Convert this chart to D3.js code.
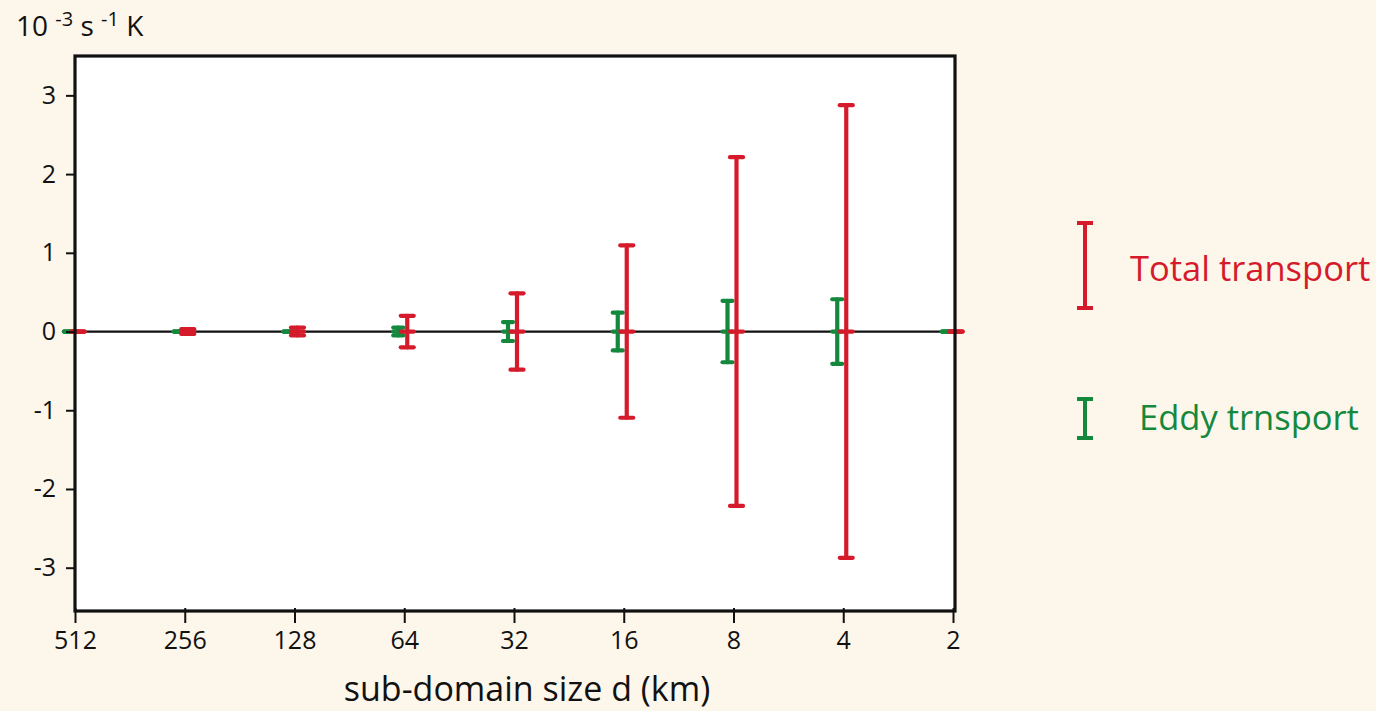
<!DOCTYPE html>
<html><head><meta charset="utf-8">
<script src="https://cdn.jsdelivr.net/npm/d3@7"></script>
<style>
html,body{margin:0;padding:0;background:#fdf6ea;}
svg{display:block;font-family:"Open Sans",sans-serif;}
</style></head>
<body>
<svg id="chart" width="1376" height="711"></svg>
<script>
// ---- data ----
const sizes = ["512","256","128","64","32","16","8","4","2"];
const totalHalf = [0.0, 0.03, 0.05, 0.2, 0.485, 1.095, 2.215, 2.875, 0.0];
const eddyHalf  = [0.0, 0.0, 0.0, 0.05, 0.12, 0.24, 0.39, 0.41, 0.0];
const yTicks = [-3,-2,-1,0,1,2,3];
const seriesNames = ["Total transport","Eddy trnsport"];

const RED = "#d51b2b", GREEN = "#14883c";
const svg = d3.select("#chart");
const L = 75, R = 953, T = 56, B = 611;

const x = d3.scalePoint().domain(sizes).range([L, R]);
const y = d3.scaleLinear().domain([-3.55, 3.5]).range([B, T]);

// plot area
svg.append("rect").attr("x", L).attr("y", T).attr("width", R - L + 2).attr("height", B - T)
  .attr("fill", "#ffffff");

// zero line
svg.append("line").attr("x1", L - 10).attr("x2", R + 2).attr("y1", y(0)).attr("y2", y(0))
  .attr("stroke", "#111").attr("stroke-width", 2.2);

// error bars
function drawBars(vals, color, off, capW, cls) {
  const g = svg.append("g").attr("class", cls);
  sizes.forEach((s, i) => {
    const cx = x(s) + off, h = vals[i];
    const gg = g.append("g").attr("stroke", color).attr("stroke-width", 4.2).attr("stroke-linecap", "round");
    gg.append("line").attr("x1", cx).attr("x2", cx).attr("y1", y(h)).attr("y2", y(-h));
    gg.append("line").attr("x1", cx - capW/2).attr("x2", cx + capW/2).attr("y1", y(h)).attr("y2", y(h));
    gg.append("line").attr("x1", cx - capW/2).attr("x2", cx + capW/2).attr("y1", y(-h)).attr("y2", y(-h));
    gg.append("line").attr("x1", cx - capW/2).attr("x2", cx + capW/2).attr("y1", y(0)).attr("y2", y(0));
  });
}
drawBars(eddyHalf, GREEN, -6, 10, "eddy");
drawBars(totalHalf, RED, 3, 13, "total");

// frame
svg.append("rect").attr("x", L).attr("y", T).attr("width", R - L + 2).attr("height", B - T)
  .attr("fill", "none").attr("stroke", "#111").attr("stroke-width", 3.2);

// y axis
const yAxis = d3.axisLeft(y).tickValues(yTicks).tickSize(9).tickPadding(10)
  .tickFormat(d => String(d));
const ya = svg.append("g").attr("transform", `translate(${L},0)`).call(yAxis);
ya.select(".domain").remove();
ya.selectAll(".tick line").attr("stroke", "#111").attr("stroke-width", 2);
ya.selectAll(".tick text").attr("font-size", 25).attr("fill", "#111")
  .attr("font-family", "'Open Sans',sans-serif");

// x axis
const xAxis = d3.axisBottom(x).tickSize(12).tickPadding(8);
const xa = svg.append("g").attr("transform", `translate(0,${B})`).call(xAxis);
xa.select(".domain").remove();
xa.selectAll(".tick line").attr("stroke", "#111").attr("stroke-width", 2).attr("y1", -3);
xa.selectAll(".tick text").attr("font-size", 25).attr("fill", "#111")
  .attr("font-family", "'Open Sans',sans-serif");

// x label
svg.append("text").attr("x", 527).attr("y", 701).attr("text-anchor", "middle")
  .attr("font-size", 34).attr("fill", "#111").text("sub-domain size d (km)");

// unit label
const u = svg.append("text").attr("x", 16).attr("y", 36).attr("font-size", 28).attr("fill", "#111");
u.append("tspan").text("10 ");
u.append("tspan").attr("font-size", 20).attr("dy", -10).text("-3");
u.append("tspan").attr("dy", 10).text(" s ");
u.append("tspan").attr("font-size", 20).attr("dy", -10).text("-1");
u.append("tspan").attr("dy", 10).text(" K");

// legend
const legend = [
  {name: seriesNames[0], color: RED, y1: 223, y2: 308, tx: 1130, ty: 281},
  {name: seriesNames[1], color: GREEN, y1: 399, y2: 438, tx: 1139, ty: 430}
];
legend.forEach(d => {
  const g = svg.append("g").attr("stroke", d.color).attr("stroke-width", 4);
  g.append("line").attr("x1", 1085).attr("x2", 1085).attr("y1", d.y1).attr("y2", d.y2);
  g.append("line").attr("x1", 1077).attr("x2", 1093).attr("y1", d.y1).attr("y2", d.y1);
  g.append("line").attr("x1", 1077).attr("x2", 1093).attr("y1", d.y2).attr("y2", d.y2);
  svg.append("text").attr("x", d.tx).attr("y", d.ty).attr("font-size", 34.5).attr("fill", d.color).text(d.name);
});
</script>
</body></html>
